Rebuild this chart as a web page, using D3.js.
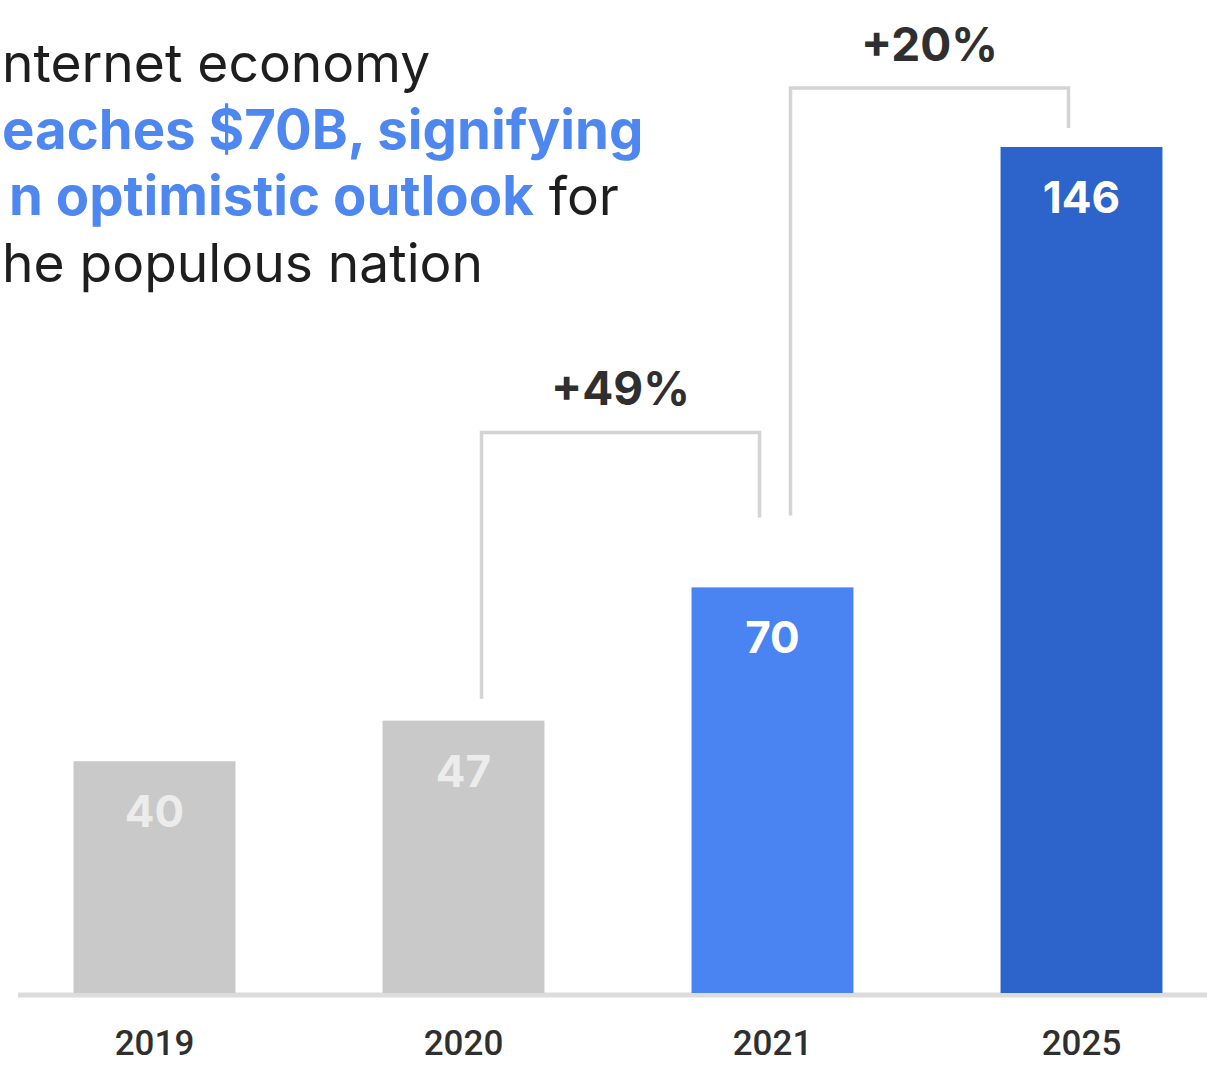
<!DOCTYPE html>
<html>
<head>
<meta charset="utf-8">
<script src="https://cdn.jsdelivr.net/npm/d3@7"></script>
<style>
  html, body { margin: 0; padding: 0; background: #ffffff; overflow: hidden; }
  svg { display: block; }
</style>
</head>
<body>
<svg id="chart" width="1207" height="1065"></svg>
<script>
// ---- data ----
const years = ["2019", "2020", "2021", "2025"];
const values = [40, 47, 70, 146];
const barKinds = ["past", "past", "current", "forecast"];
const growthFrom = ["2020", "2021"];
const growthTo = ["2021", "2025"];
const growthLabels = ["+49%", "+20%"];
// title text as visible in the (left-cropped) reference
const titleLines = [
  [{ t: "nternet economy", hl: false }],
  [{ t: "eaches $70B, signifying", hl: true }],
  [{ t: "n optimistic outlook", hl: true }, { t: " for", hl: false }],
  [{ t: "he populous nation", hl: false }]
];

// ---- styles ----
const FONT = "Inter, 'Open Sans', sans-serif";
const NUMFONT = "Roboto, 'Open Sans', sans-serif";
const colorOf = { past: "#c9c9c9", current: "#4a83f2", forecast: "#2c64cb" };
const BLUE_TEXT = "#4d87ef";
const DARK = "#2f2f2f";
const LINE = "#d4d4d4";
const titleIndent = [2, 2, 9, 2];

const svg = d3.select("#chart");

const x = d3.scaleBand().domain(years).range([0, 1236])
  .paddingInner(0.476).paddingOuter(0.238);
const y = d3.scaleLinear().domain([0, 146]).range([993, 147]);

// ---- title ----
const title = svg.append("text")
  .attr("font-family", FONT)
  .attr("font-size", 53);
titleLines.forEach((line, i) => {
  const baseY = 82 + i * 66.5;
  line.forEach((seg, j) => {
    const ts = title.append("tspan")
      .text(seg.t)
      .attr("fill", seg.hl ? BLUE_TEXT : "#1e1e1e")
      .attr("font-weight", seg.hl ? 700 : 400)
      .attr("font-size", seg.hl ? 54.5 : 53.3);
    if (j === 0) ts.attr("x", titleIndent[i]).attr("y", baseY);
  });
});

// ---- baseline ----
svg.append("line")
  .attr("x1", 18).attr("x2", 1207)
  .attr("y1", y(0) + 2).attr("y2", y(0) + 2)
  .attr("stroke", "#dcdcdc").attr("stroke-width", 5);

// ---- bars ----
const data = years.map((yr, i) => ({ year: yr, value: values[i], kind: barKinds[i] }));

svg.selectAll("rect.bar").data(data).enter().append("rect")
  .attr("class", "bar")
  .attr("x", d => x(d.year))
  .attr("y", d => y(d.value))
  .attr("width", x.bandwidth())
  .attr("height", d => y(0) - y(d.value))
  .attr("fill", d => colorOf[d.kind]);

svg.selectAll("text.val").data(data).enter().append("text")
  .attr("class", "val")
  .attr("x", d => x(d.year) + x.bandwidth() / 2)
  .attr("y", d => y(d.value) + 66)
  .attr("text-anchor", "middle")
  .attr("font-family", FONT)
  .attr("font-weight", 700)
  .attr("font-size", 44)
  .attr("fill", d => d.kind === "past" ? "#ececec" : "#ffffff")
  .text(d => d.value);

// ---- x axis labels ----
const xAxis = d3.axisBottom(x).tickSize(0).tickPadding(0);
const gx = svg.append("g")
  .attr("transform", `translate(0, ${y(0) + 62})`)
  .call(xAxis);
gx.select(".domain").remove();
gx.selectAll("text")
  .attr("dy", 0)
  .attr("font-family", NUMFONT)
  .attr("font-size", 35)
  .attr("font-weight", 500)
  .attr("fill", DARK);

// ---- growth brackets ----
const valOf = Object.fromEntries(years.map((yr, i) => [yr, values[i]]));
const bracketStyle = [
  { rise: 155, gapL: 22, gapR: 70 },
  { rise: 59, gapL: 72, gapR: 19 }
];
growthLabels.forEach((lab, i) => {
  const a = growthFrom[i], b = growthTo[i];
  const st = bracketStyle[i];
  const xl = x(a) + x.bandwidth() / 2 + 18;
  const xr = x(b) + x.bandwidth() / 2 - 13;
  const topY = Math.min(y(valOf[a]), y(valOf[b])) - st.rise;
  const path = d3.path();
  path.moveTo(xl, y(valOf[a]) - st.gapL);
  path.lineTo(xl, topY);
  path.lineTo(xr, topY);
  path.lineTo(xr, y(valOf[b]) - st.gapR);
  svg.append("path")
    .attr("d", path.toString())
    .attr("fill", "none")
    .attr("stroke", LINE)
    .attr("stroke-width", 3.5);
  svg.append("text")
    .attr("x", (xl + xr) / 2)
    .attr("y", topY - 27)
    .attr("text-anchor", "middle")
    .attr("font-family", FONT)
    .attr("font-weight", 700)
    .attr("font-size", 46)
    .attr("fill", DARK)
    .text(lab);
});
</script>
</body>
</html>
